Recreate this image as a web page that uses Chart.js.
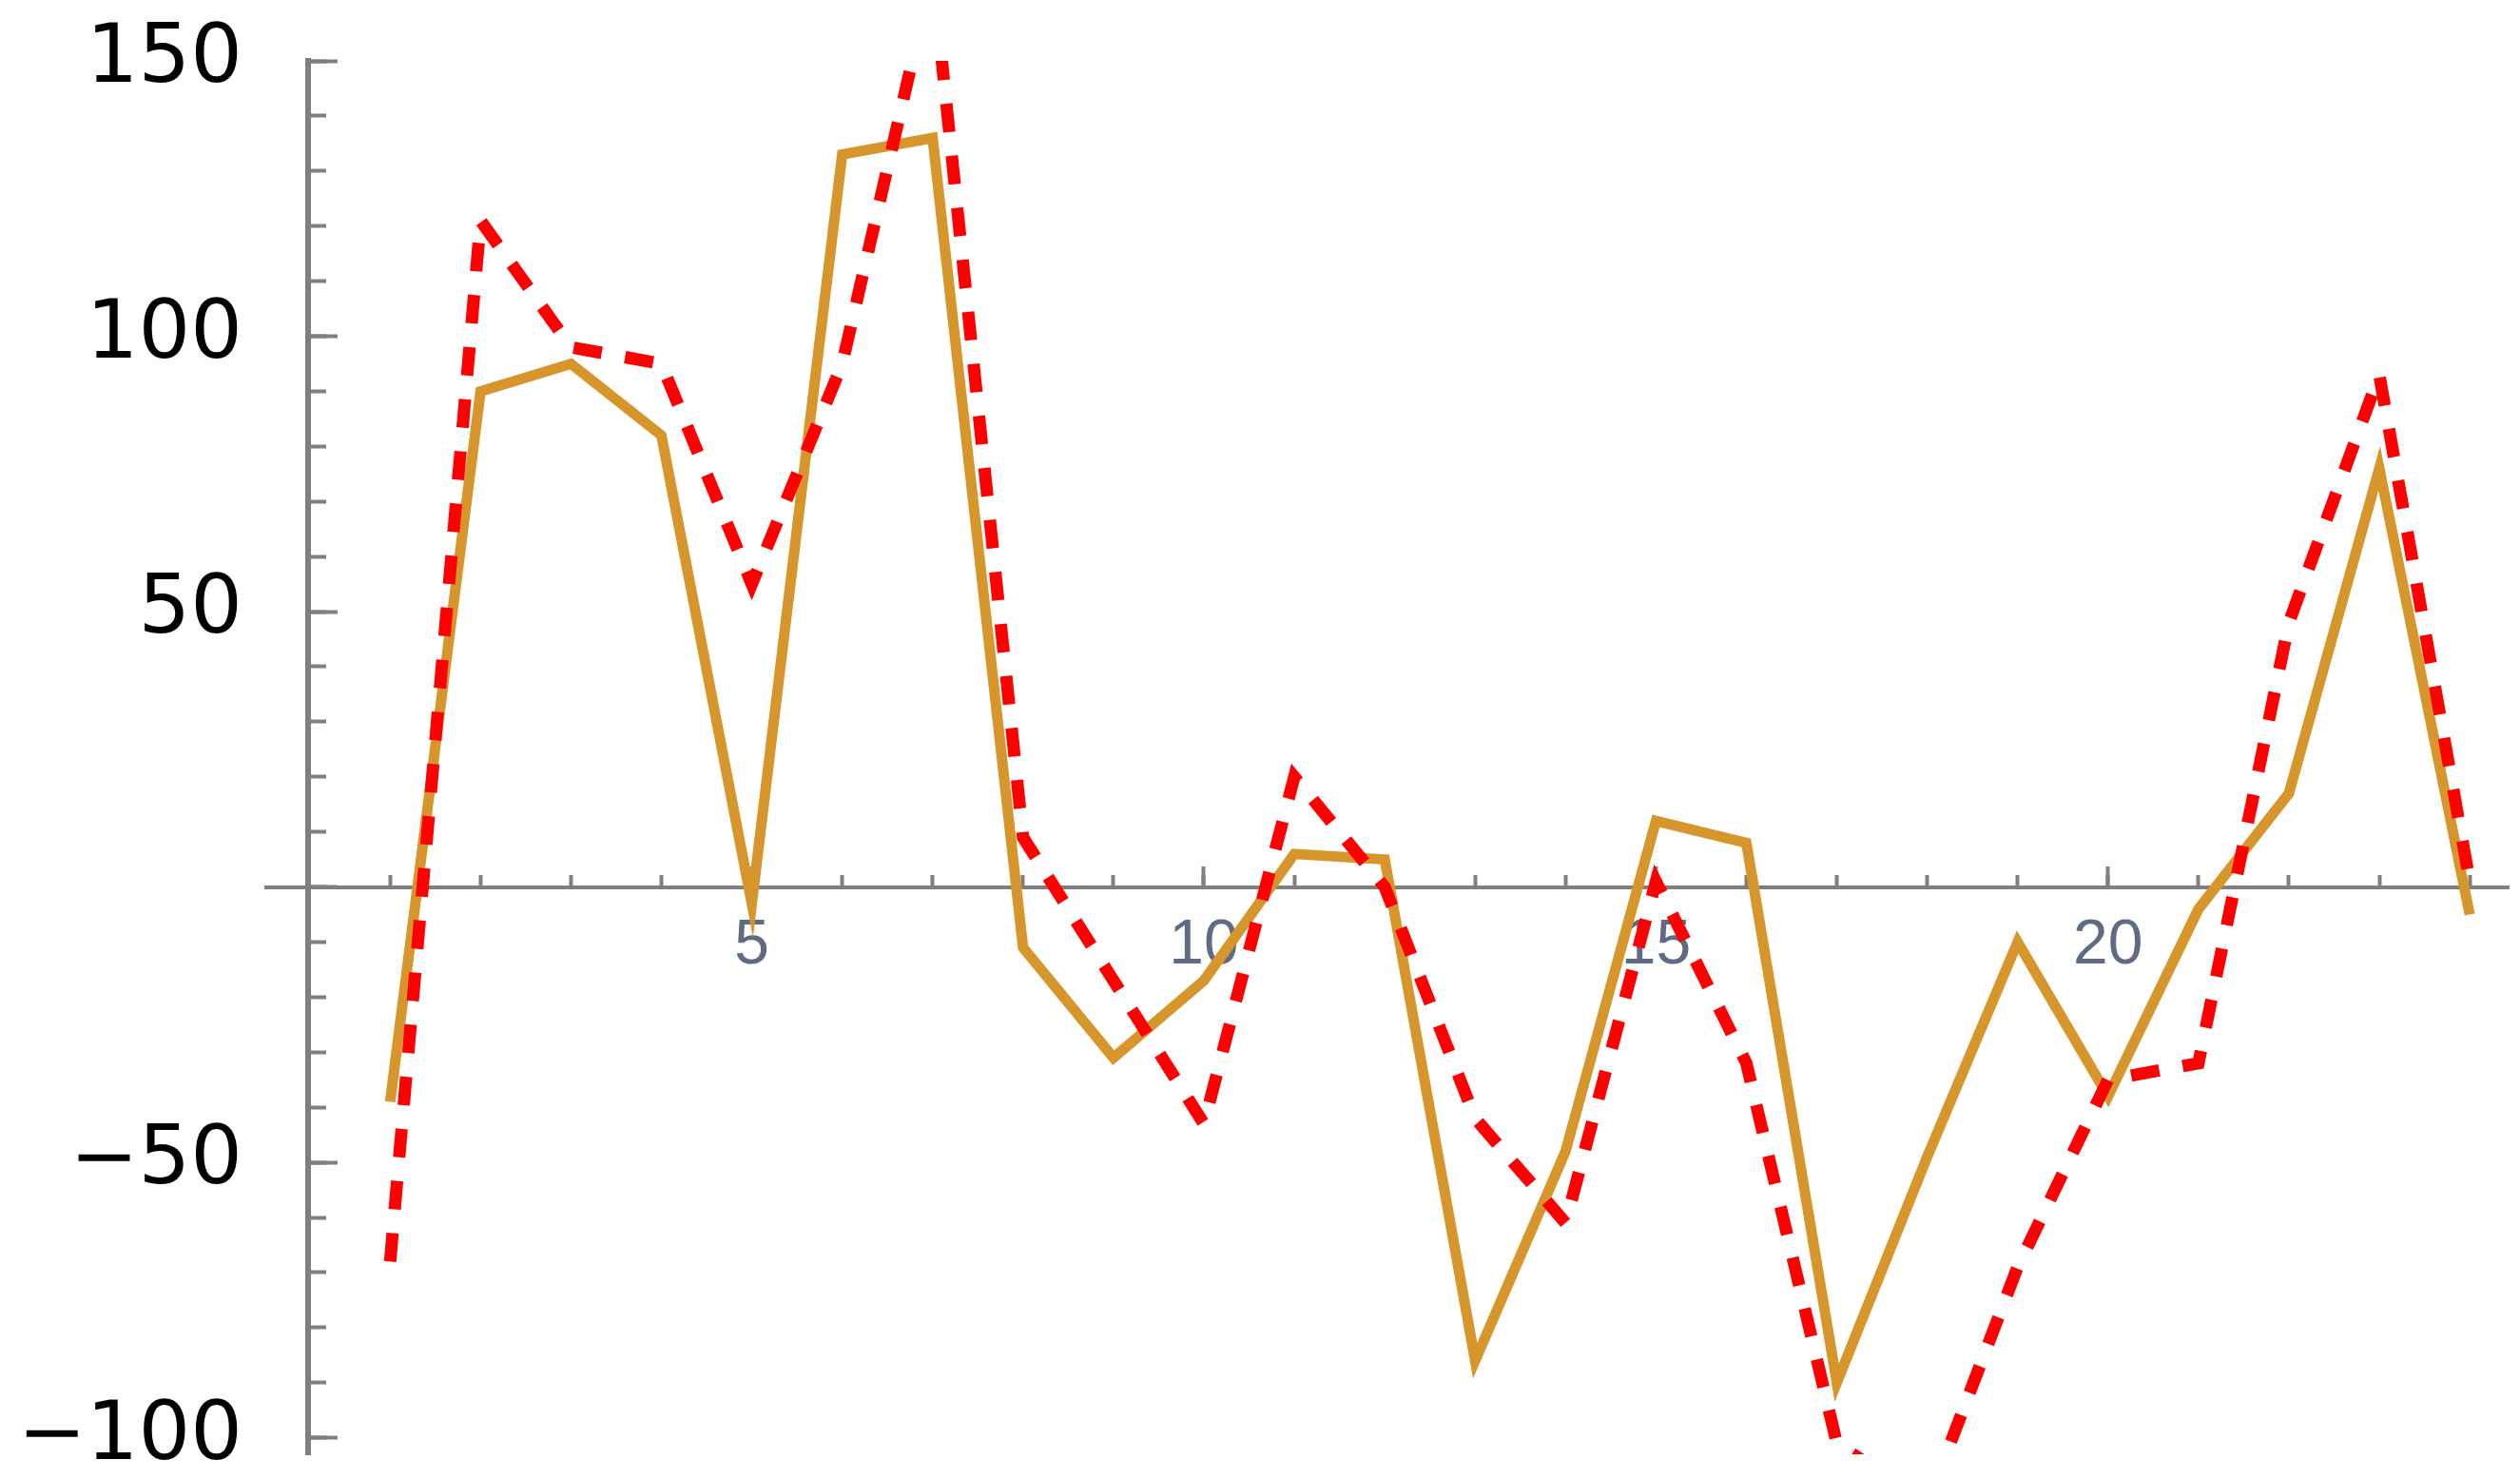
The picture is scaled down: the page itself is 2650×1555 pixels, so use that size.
<!DOCTYPE html>
<html>
<head>
<meta charset="utf-8">
<script src="https://cdn.jsdelivr.net/npm/chart.js@4.4.1/dist/chart.umd.min.js"></script>
<style>
  html, body { margin: 0; padding: 0; background: #ffffff; }
  #wrap { width: 2650px; height: 1555px; position: relative; }
</style>
</head>
<body>
<div id="wrap"><canvas id="lineChart"></canvas></div>
<script>
const xValues = [1, 2, 3, 4, 5, 6, 7, 8, 9, 10, 11, 12, 13, 14, 15, 16, 17, 18, 19, 20, 21, 22, 23, 24];
const solidSeries = [-39, 90, 95, 82, -3, 133, 136, -11, -31, -17, 6, 5, -86, -48, 12, 8, -90, -49, -10, -38, -4, 17, 76, -5];
const dashedSeries = [-68, 121, 98, 95, 55, 95, 166, 9, -17, -43, 20, 0, -42, -61, 1, -32, -101, -112, -69, -35, -32, 48, 93, 1];
const xTickLabels = [5, 10, 15, 20];
const yTickLabels = [-100, -50, 50, 100, 150];

const axisGray = "#7f7f7f";
const yMin = -103;
const yMax = 150;

const ctx = document.getElementById("lineChart");

new Chart(ctx, {
  type: "line",

  data: {
    datasets: [
      {
        label: "dashed",
        data: xValues.map((x, i) => ({ x: x, y: dashedSeries[i] })),
        borderColor: "#ff0000",
        borderWidth: 13,
        borderDash: [30, 25],
        borderCapStyle: "butt",
        pointRadius: 0,
        tension: 0,
        fill: false,
      },
      {
        label: "solid",
        data: xValues.map((x, i) => ({ x: x, y: solidSeries[i] })),
        borderColor: "#d6962b",
        borderWidth: 11,
        pointRadius: 0,
        tension: 0,
        fill: false,
      },
    ],
  },

  options: {
    responsive: true,
    maintainAspectRatio: false,
    animation: false,
    layout: {
      padding: { left: 0, top: 64, right: 12, bottom: 26 },
    },
    plugins: {
      legend: { display: false },
      tooltip: { enabled: false },
    },
    scales: {
      x: {
        type: "linear",
        position: { y: 0 },
        min: -0.37,
        max: 24.43,
        ticks: {
          stepSize: 1,
          autoSkip: false,
          includeBounds: false,
          maxRotation: 0,
          padding: 38,
          color: "#5e6b83",
          font: { family: "'Liberation Sans', Arial, sans-serif", size: 66 },
          callback: (v) => (xTickLabels.includes(v) ? String(v) : ""),
        },
        grid: {
          drawOnChartArea: false,
          drawTicks: true,
          tickLength: -15,
          tickColor: (c) => (c.tick && c.tick.value === 0 ? "rgba(0,0,0,0)" : axisGray),
          tickWidth: 4,
        },
        border: { display: true, color: axisGray, width: 4 },
      },

      xMajor: {
        type: "linear",
        axis: "x",
        position: { y: 0 },
        min: -0.37,
        max: 24.43,
        ticks: {
          display: false,
          stepSize: 5,
          autoSkip: false,
          includeBounds: false,
        },
        grid: {
          drawOnChartArea: false,
          drawTicks: true,
          tickLength: -22,
          tickColor: (c) => (c.tick && c.tick.value === 0 ? "rgba(0,0,0,0)" : axisGray),
          tickWidth: 4,
        },
        border: { display: false },
      },

      y: {
        type: "linear",
        position: "left",
        min: yMin,
        max: yMax,
        afterFit: (scale) => {
          scale.width = 280;
          scale.paddingTop = 0;
          scale.paddingBottom = 0;
        },
        ticks: {
          stepSize: 50,
          autoSkip: false,
          includeBounds: false,
          padding: 25,
          color: "#000000",
          font: { family: "'DejaVu Sans', sans-serif", size: 86 },
          callback: (v) => (yTickLabels.includes(v) ? (v < 0 ? "\u2212" + Math.abs(v) : String(v)) : ""),
        },
        grid: { display: false, drawTicks: false },
        border: { display: false },
      },

      yMajor: {
        type: "linear",
        axis: "y",
        position: { x: 0.09 },
        min: yMin,
        max: yMax,
        ticks: {
          display: false,
          stepSize: 50,
          autoSkip: false,
          includeBounds: false,
        },
        grid: {
          drawOnChartArea: false,
          drawTicks: true,
          tickLength: -34,
          tickColor: axisGray,
          tickWidth: 4,
        },
        border: { display: true, color: axisGray, width: 6 },
      },

      yMinor: {
        type: "linear",
        axis: "y",
        position: { x: 0.09 },
        min: yMin,
        max: yMax,
        ticks: {
          display: false,
          stepSize: 10,
          maxTicksLimit: 1000,
          autoSkip: false,
          includeBounds: false,
        },
        grid: {
          drawOnChartArea: false,
          drawTicks: true,
          tickLength: -19,
          tickColor: axisGray,
          tickWidth: 4,
        },
        border: { display: false },
      },
    },
  },
});
</script>
</body>
</html>
